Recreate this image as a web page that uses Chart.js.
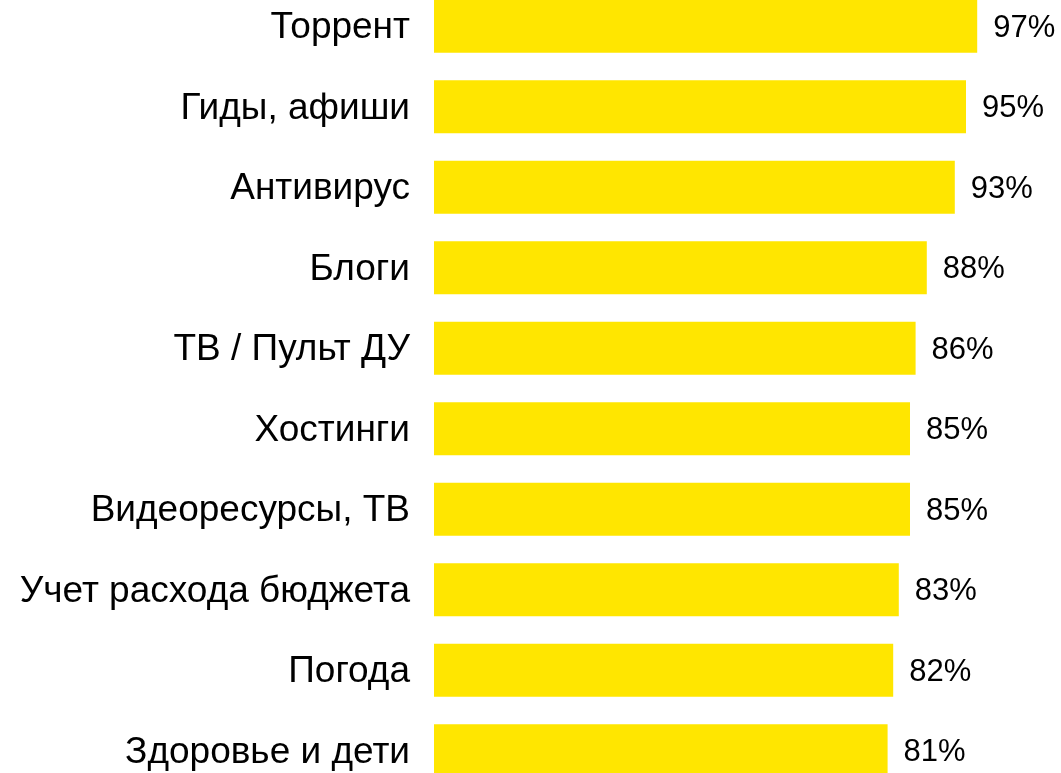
<!DOCTYPE html>
<html>
<head>
<meta charset="utf-8">
<script src="https://cdn.jsdelivr.net/npm/chart.js@4/dist/chart.umd.min.js"></script>
<style>
  html, body { margin: 0; padding: 0; background: #fff; overflow: hidden; }
  #chart { position: absolute; left: 0; top: -14px; }
</style>
</head>
<body>
<canvas id="chart" width="1061" height="805"></canvas>
<script>
const categories = [
  "Торрент",
  "Гиды, афиши",
  "Антивирус",
  "Блоги",
  "ТВ / Пульт ДУ",
  "Хостинги",
  "Видеоресурсы, ТВ",
  "Учет расхода бюджета",
  "Погода",
  "Здоровье и дети"
];
const shares = [97, 95, 93, 88, 86, 85, 85, 83, 82, 81];

const FONT = "'Liberation Sans', Arial, sans-serif";

// подписи значений справа от полос
const valueLabels = {
  id: "valueLabels",
  afterDatasetsDraw(chart) {
    const ctx = chart.ctx;
    const meta = chart.getDatasetMeta(0);
    ctx.save();
    ctx.font = "31px " + FONT;
    ctx.fillStyle = "#000";
    ctx.textAlign = "left";
    ctx.textBaseline = "middle";
    meta.data.forEach((bar, i) => {
      ctx.fillText(shares[i] + "%", bar.x + 16, bar.y + 2);
    });
    ctx.restore();
  }
};

new Chart(document.getElementById("chart"), {
  type: "bar",
  data: {
    labels: categories,
    datasets: [{
      data: shares,
      backgroundColor: "#FFE600",
      borderWidth: 0,
      barPercentage: 0.66,
      categoryPercentage: 1
    }]
  },
  options: {
    indexAxis: "y",
    responsive: false,
    animation: false,
    layout: { padding: { left: 0, right: 67, top: 0, bottom: 0 } },
    plugins: {
      legend: { display: false },
      tooltip: { enabled: false }
    },
    scales: {
      x: {
        display: false,
        min: 0,
        max: 100
      },
      y: {
        grid: { display: false },
        border: { display: false },
        ticks: {
          color: "#000",
          padding: 16,
          labelOffset: 2,
          font: { family: FONT, size: 37 }
        },
        afterFit(scale) {
          scale.width = 434;
          // без отступов сверху/снизу под подписи
          scale.paddingTop = 0;
          scale.paddingBottom = 0;
        }
      }
    }
  },
  plugins: [valueLabels]
});
</script>
</body>
</html>
